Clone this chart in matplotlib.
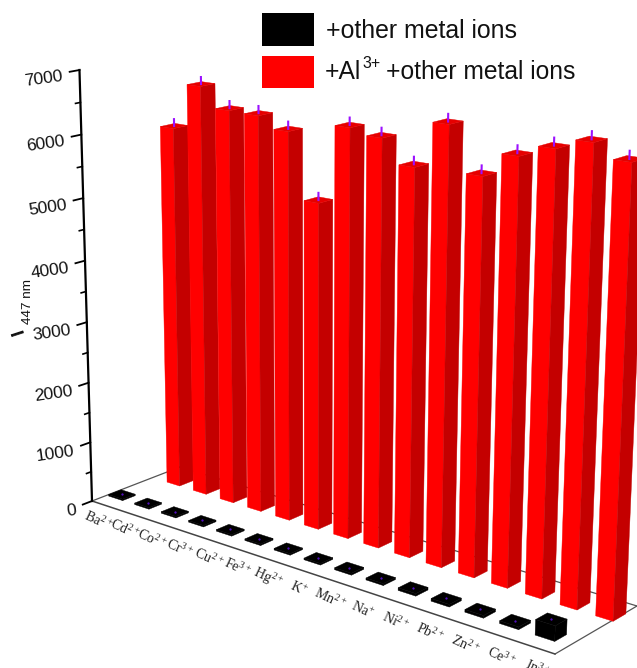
import numpy as np
import matplotlib
matplotlib.use('Agg')
import matplotlib.pyplot as plt
from matplotlib.patches import Polygon, Rectangle

plt.rcParams['mathtext.default'] = 'regular'

ions = ['Ba$^{2+}$', 'Cd$^{2+}$', 'Co$^{2+}$', 'Cr$^{3+}$', 'Cu$^{2+}$', 'Fe$^{3+}$', 'Hg$^{2+}$', 'K$^{+}$',
        'Mn$^{2+}$', 'Na$^{+}$', 'Ni$^{2+}$', 'Pb$^{2+}$', 'Zn$^{2+}$', 'Ce$^{3+}$', 'In$^{3+}$']
red_vals = [5950, 6680, 6370, 6360, 6190, 5180, 6390, 6310, 5960, 6650, 5990, 6350, 6530, 6690, 6500]
red_err = [110] * 15
black_vals = [25, 25, 25, 25, 25, 25, 25, 25, 30, 30, 40, 40, 40, 40, 230]
z_ticks = [0, 1000, 2000, 3000, 4000, 5000, 6000, 7000]
z_minor = [500, 1500, 2500, 3500, 4500, 5500, 6500]

# floor corners in the picture, then a plain projective camera
src = [(0, 0), (15, 0), (15, 1), (0, 1)]
dst = [(92, 501), (555, 654), (637, 606), (180, 467)]
A = []
b = []
for (x, y), (u, v) in zip(src, dst):
    A.append([x, y, 1, 0, 0, 0, -u * x, -u * y]); b.append(u)
    A.append([0, 0, 0, x, y, 1, -v * x, -v * y]); b.append(v)
H = np.append(np.linalg.solve(np.array(A, float), np.array(b, float)), 1).reshape(3, 3)
vp = np.array([310, 8000, 1.0])
a = -0.05435 / 7000


def project(x, y, z=0):
    p = H @ np.array([x, y, 1.0]) + a * z * vp
    return p[0] / p[2], p[1] / p[2]


def draw_bar(ax, xc, yc, val, dx, dy, front, side, top, zo):
    x0, x1, y0, y1 = xc - dx, xc + dx, yc - dy, yc + dy
    faces = [([(x0, y0, 0), (x1, y0, 0), (x1, y0, val), (x0, y0, val)], front),
             ([(x1, y0, 0), (x1, y1, 0), (x1, y1, val), (x1, y0, val)], side),
             ([(x0, y0, val), (x1, y0, val), (x1, y1, val), (x0, y1, val)], top)]
    for pts, c in faces:
        ax.add_patch(Polygon([project(*p) for p in pts], closed=True, fc=c, ec=c, lw=0.3, zorder=zo))


fig = plt.figure(figsize=(6.37, 6.68), dpi=100)
ax = fig.add_axes([0, 0, 1, 1])
ax.set_xlim(0, 637)
ax.set_ylim(668, 0)
ax.axis('off')

# floor outline
for p, q in [((0, 0), (0, 1)), ((0, 1), (15, 1)), ((15, 1), (15, 0))]:
    u, v = project(*p), project(*q)
    ax.plot([u[0], v[0]], [u[1], v[1]], color='#555555', lw=0.9, zorder=1)
u, v = project(0, 0), project(15, 0)
ax.plot([u[0], v[0]], [u[1], v[1]], color='#444444', lw=1.1, zorder=1)

# z axis
u, v = project(0, 0, 0), project(0, 0, 7000)
ax.plot([u[0], v[0]], [u[1], v[1]], color='black', lw=1.6, zorder=3)
for t in z_ticks:
    u, v = project(0, 0, t), project(0, -0.1, t)
    ax.plot([u[0], v[0]], [u[1], v[1]], color='black', lw=1.3, zorder=3)
    w = project(0, -0.17, t)
    ax.text(w[0], w[1] + 3, str(t), ha='right', va='center', rotation=8, rotation_mode='anchor',
            family='Liberation Sans', fontsize=12.5, color='#111111')
for t in z_minor:
    u, v = project(0, 0, t), project(0, -0.05, t)
    ax.plot([u[0], v[0]], [u[1], v[1]], color='black', lw=1.2, zorder=3)

# the I is sheared in the original, the subscript is not
ax.text(19, 331, 'I', rotation=108, ha='center', va='center', family='Liberation Sans',
        fontsize=14, fontweight='bold', color='#111111')
ax.text(28, 302, '447 nm', rotation=90, ha='center', va='center', family='Liberation Sans',
        fontsize=9.7, color='#111111')

# bars
for i in range(15):
    xc = i + 0.8
    draw_bar(ax, xc, 0.76, red_vals[i], 0.24, 0.08, '#ff0000', '#c40000', '#e60000', 5 + i)
    u, v = project(xc, 0.76, red_vals[i]), project(xc, 0.76, red_vals[i] + red_err[i])
    ax.plot([u[0], v[0]], [u[1], v[1]], color='#9b10ff', lw=1.5, zorder=5 + i)
    xb = i + 0.35
    draw_bar(ax, xb, 0.23, black_vals[i], 0.27, 0.07, 'black', 'black', 'black', 30 + i)
    u = project(xb, 0.23, black_vals[i])
    ax.plot([u[0]], [u[1]], '.', color='#5a10d0', ms=1.2, zorder=50)
    w = project(i + 1.15, -0.26)
    ax.text(w[0], w[1], ions[i], rotation=-25, ha='center', va='center', rotation_mode='anchor',
            family='Liberation Serif', fontsize=10, color='#222222')

# legend
ax.add_patch(Rectangle((262, 13), 52, 33, fc='black', ec='none', zorder=60))
ax.add_patch(Rectangle((262, 56), 52, 32, fc='#ff0000', ec='none', zorder=60))
ax.text(326, 31, '+other metal ions', va='center', family='Liberation Sans', fontsize=17.9, color='#111111')
ax.text(325, 72, '+Al', va='center', family='Liberation Sans', fontsize=17.7, color='#111111')
ax.text(362, 64, '3+', va='center', family='Liberation Sans', fontsize=11.5, color='#111111')
ax.text(386, 72, '+other metal ions', va='center', family='Liberation Sans', fontsize=17.7, color='#111111')

fig.savefig('out.png', dpi=100)
